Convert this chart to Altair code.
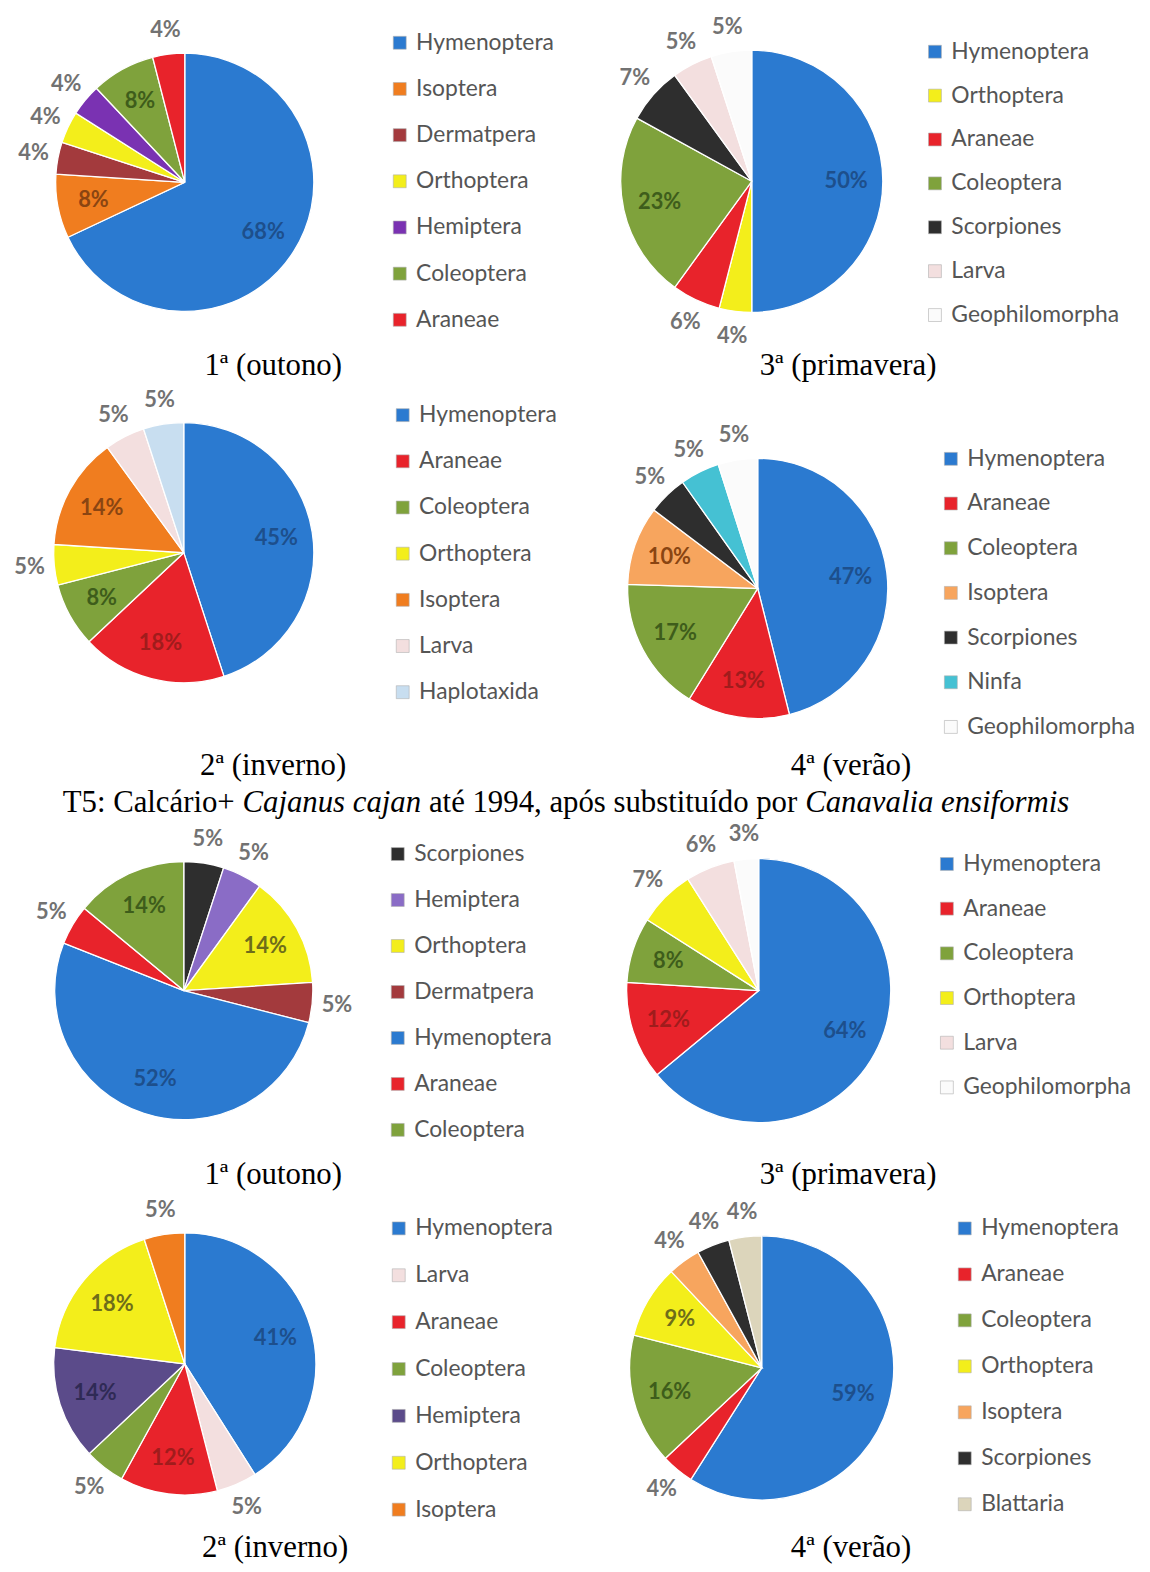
import altair as alt
import pandas as pd

# ---------------- data (percent of individuals per order) ----------------
P1_CATS = ["Hymenoptera", "Isoptera", "Dermatpera", "Orthoptera", "Hemiptera", "Coleoptera", "Araneae"]
P1_VALS = [68, 8, 4, 4, 4, 8, 4]
P2_CATS = ["Hymenoptera", "Orthoptera", "Araneae", "Coleoptera", "Scorpiones", "Larva", "Geophilomorpha"]
P2_VALS = [50, 4, 6, 23, 7, 5, 5]
P3_CATS = ["Hymenoptera", "Araneae", "Coleoptera", "Orthoptera", "Isoptera", "Larva", "Haplotaxida"]
P3_VALS = [45, 18, 8, 5, 14, 5, 5]
P4_CATS = ["Hymenoptera", "Araneae", "Coleoptera", "Isoptera", "Scorpiones", "Ninfa", "Geophilomorpha"]
P4_VALS = [47, 13, 17, 10, 5, 5, 5]
P5_CATS = ["Scorpiones", "Hemiptera", "Orthoptera", "Dermatpera", "Hymenoptera", "Araneae", "Coleoptera"]
P5_VALS = [5, 5, 14, 5, 52, 5, 14]
P6_CATS = ["Hymenoptera", "Araneae", "Coleoptera", "Orthoptera", "Larva", "Geophilomorpha"]
P6_VALS = [64, 12, 8, 7, 6, 3]
P7_CATS = ["Hymenoptera", "Larva", "Araneae", "Coleoptera", "Hemiptera", "Orthoptera", "Isoptera"]
P7_VALS = [41, 5, 12, 5, 14, 18, 5]
P8_CATS = ["Hymenoptera", "Araneae", "Coleoptera", "Orthoptera", "Isoptera", "Scorpiones", "Blattaria"]
P8_VALS = [59, 4, 16, 9, 4, 4, 4]

# which slices carry their label inside the pie
P1_IN = ["Hymenoptera", "Isoptera", "Coleoptera"]
P2_IN = ["Hymenoptera", "Coleoptera"]
P3_IN = ["Hymenoptera", "Araneae", "Coleoptera", "Isoptera"]
P4_IN = ["Hymenoptera", "Araneae", "Coleoptera", "Isoptera"]
P5_IN = ["Orthoptera", "Hymenoptera", "Coleoptera"]
P6_IN = ["Hymenoptera", "Araneae", "Coleoptera"]
P7_IN = ["Hymenoptera", "Araneae", "Hemiptera", "Orthoptera"]
P8_IN = ["Hymenoptera", "Coleoptera", "Orthoptera"]

CAPTIONS = ["1ª (outono)", "3ª (primavera)", "2ª (inverno)", "4ª (verão)",
            "1ª (outono)", "3ª (primavera)", "2ª (inverno)", "4ª (verão)"]
TITLE_SEGMENTS = [("T5: Calcário+", "normal"), ("Cajanus cajan", "italic"),
                  ("até 1994, após substituído por", "normal"), ("Canavalia ensiformis", "italic")]

# ---------------- styles ----------------
PAL = {
    "Hymenoptera": "#2b7ad0", "Isoptera": "#f07d1f", "Dermatpera": "#a33a3d",
    "Orthoptera": "#f3ee1b", "Hemiptera": "#7a32b2", "Coleoptera": "#7fa23c",
    "Araneae": "#e8232b", "Scorpiones": "#2e2e2e", "Larva": "#f3dfdf",
    "Geophilomorpha": "#fbfbfb", "Haplotaxida": "#c8def0", "Ninfa": "#45c1d3",
    "Blattaria": "#dcd5bb",
}
OVERRIDES = [
    {}, {}, {}, {"Isoptera": "#f7a55e"},
    {"Hemiptera": "#8a6cc6"}, {}, {"Hemiptera": "#5b4b8a"}, {"Isoptera": "#f7a55e"},
]
DARK = {
    "Hymenoptera": "#1d4f8c", "Coleoptera": "#3e5d1b", "Isoptera": "#8a4512",
    "Araneae": "#a01c1c", "Orthoptera": "#6e6d1a", "Hemiptera": "#2f2a55",
    "Dermatpera": "#5a1a1a", "Scorpiones": "#111111", "Larva": "#777777",
    "Geophilomorpha": "#777777", "Haplotaxida": "#44607a", "Ninfa": "#1d5e6a",
    "Blattaria": "#666666",
}

OFF = 8  # page margin
# layout in page pixels: pie centre, radius, legend left/top row, row spacing, caption centre
LAYOUT = [
    dict(cx=186, cy=178, r=130, lx=391, ly=38, sp=46.5, capx=275, capy=363),
    dict(cx=757, cy=177, r=132, lx=930, ly=47, sp=44.2, capx=854, capy=363),
    dict(cx=185, cy=551, r=131, lx=394, ly=413, sp=46.5, capx=275, capy=766),
    dict(cx=763, cy=587, r=131, lx=946, ly=457, sp=45.0, capx=857, capy=766),
    dict(cx=185, cy=992, r=130, lx=389, ly=855, sp=46.3, capx=275, capy=1178),
    dict(cx=764, cy=992, r=133, lx=942, ly=865, sp=45.0, capx=854, capy=1178),
    dict(cx=186, cy=1368, r=132, lx=390, ly=1232, sp=47.2, capx=277, capy=1553),
    dict(cx=767, cy=1372, r=133, lx=960, ly=1232, sp=46.3, capx=857, capy=1553),
]
TITLE_CENTER = (570, 803)
SERIF = "Liberation Serif"
SERIF_SIZE = 31
SANS = "Lato"
LEG_SIZE = 23
LEG_ROW_H = 24  # rendered height of one legend entry
LBL_SIZE = 22

PANELS = [
    (P1_CATS, P1_VALS, P1_IN), (P2_CATS, P2_VALS, P2_IN),
    (P3_CATS, P3_VALS, P3_IN), (P4_CATS, P4_VALS, P4_IN),
    (P5_CATS, P5_VALS, P5_IN), (P6_CATS, P6_VALS, P6_IN),
    (P7_CATS, P7_VALS, P7_IN), (P8_CATS, P8_VALS, P8_IN),
]

layers = []
for i, ((cats, vals, inside), lay) in enumerate(zip(PANELS, LAYOUT)):
    pal = dict(PAL)
    pal.update(OVERRIDES[i])
    df = pd.DataFrame({"cat": cats, "value": vals, "idx": list(range(len(cats)))})
    df["lbl_in"] = [f"{v}%" if c in inside else "" for c, v in zip(cats, vals)]
    df["lbl_out"] = [f"{v}%" if c not in inside else "" for c, v in zip(cats, vals)]

    base = alt.Chart(df).encode(
        theta=alt.Theta("value:Q", stack=True),
        order=alt.Order("idx:Q"),
        x=alt.value(lay["cx"] - OFF),
        y=alt.value(lay["cy"] - OFF),
    )
    leg = alt.Legend(
        orient="none", legendX=lay["lx"] - OFF, legendY=lay["ly"] - OFF - LEG_ROW_H / 2,
        title=None, symbolType="square", symbolSize=169, symbolStrokeWidth=0.6,
        symbolStrokeColor="#b0b0b0", labelFont=SANS, labelFontSize=LEG_SIZE,
        labelColor="#555555", rowPadding=lay["sp"] - LEG_ROW_H, labelLimit=300,
        labelOffset=5, padding=0,
    )
    arc = base.mark_arc(outerRadius=lay["r"], stroke="white", strokeWidth=1.3).encode(
        color=alt.Color("cat:N", scale=alt.Scale(domain=cats, range=[pal[c] for c in cats]),
                        legend=leg)
    )
    t_in = base.mark_text(radius=lay["r"] * 0.72, font=SANS, fontSize=LBL_SIZE,
                          fontWeight="bold").encode(
        text="lbl_in:N",
        color=alt.Color("cat:N", scale=alt.Scale(domain=cats, range=[DARK[c] for c in cats]),
                        legend=None),
    )
    t_out = base.mark_text(radius=lay["r"] + 25, font=SANS, fontSize=LBL_SIZE,
                           fontWeight="bold", color="#727272").encode(text="lbl_out:N")
    cap = alt.Chart(pd.DataFrame({"k": [0]})).mark_text(
        font=SERIF, fontSize=SERIF_SIZE, color="black").encode(
        x=alt.value(lay["capx"] - OFF), y=alt.value(lay["capy"] - OFF),
        text=alt.value(CAPTIONS[i]))
    layers += [arc, t_in, t_out, cap]

# ---- title line with italic species names (Times metrics to chain segments) ----
W_REG = {' ': 250, 'T': 611, '5': 500, ':': 278, 'C': 667, 'a': 444, 'l': 278, 'c': 444,
         'á': 444, 'r': 333, 'i': 278, 'o': 500, '+': 564, 't': 278, 'é': 444, '1': 500,
         '9': 500, '4': 500, ',': 250, 'p': 500, 'ó': 500, 's': 389, 'u': 500, 'b': 500,
         'í': 278, 'd': 500}
W_IT = {' ': 250, 'C': 667, 'a': 500, 'j': 278, 'n': 500, 'u': 500, 's': 389, 'c': 444,
        'v': 444, 'l': 278, 'i': 278, 'e': 444, 'f': 278, 'o': 500, 'r': 389, 'm': 722}


def seg_width(txt, style):
    tab = W_IT if style == "italic" else W_REG
    return sum(tab.get(ch, 500) for ch in txt) * SERIF_SIZE / 1000.0


space = 250 * SERIF_SIZE / 1000.0
widths = [seg_width(t, s) for t, s in TITLE_SEGMENTS]
total = sum(widths) + space * (len(widths) - 1)
xpos = TITLE_CENTER[0] - OFF - total / 2
for (txt, style), w in zip(TITLE_SEGMENTS, widths):
    layers.append(
        alt.Chart(pd.DataFrame({"k": [0]})).mark_text(
            font=SERIF, fontSize=SERIF_SIZE, fontStyle=style, align="left", color="black"
        ).encode(x=alt.value(xpos), y=alt.value(TITLE_CENTER[1] - OFF), text=alt.value(txt))
    )
    xpos += w + space

chart = (
    alt.layer(*layers)
    .resolve_scale(theta="independent", color="independent")
    .properties(width=1142, height=1564, autosize=alt.AutoSizeParams(type="none"),
                padding=0, background="white")
    .configure_view(strokeWidth=0)
)

chart.save("out.html", embed_options={"renderer": "svg", "actions": False})
